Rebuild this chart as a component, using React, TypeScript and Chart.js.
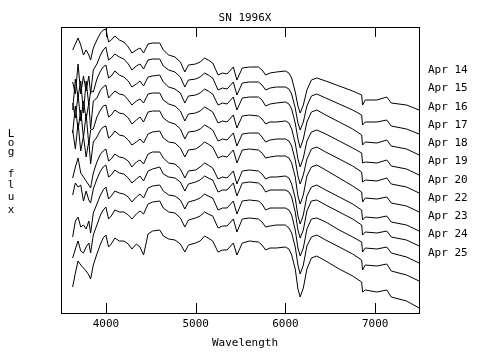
import { useEffect, useRef } from 'react';
import { Chart, registerables } from 'chart.js';

Chart.register(...registerables);

const chartTitle = 'SN 1996X';
const xTitle = 'Wavelength';
const yTitle = 'Log flux';
const xTicks = [4000, 5000, 6000, 7000];
const dates = ['Apr 14', 'Apr 15', 'Apr 16', 'Apr 17', 'Apr 18', 'Apr 19', 'Apr 20', 'Apr 22', 'Apr 23', 'Apr 24', 'Apr 25'];

const wavelengths = [3630, 3660, 3690, 3720, 3750, 3780, 3810, 3830, 3860, 3900, 3940, 3970, 4000, 4030, 4060, 4100, 4150, 4200, 4250, 4290, 4340, 4380, 4420, 4470, 4520, 4600, 4640, 4700, 4770, 4830, 4880, 4920, 5000, 5050, 5100, 5140, 5190, 5250, 5300, 5350, 5420, 5460, 5520, 5600, 5700, 5740, 5780, 5830, 5900, 6000, 6040, 6070, 6110, 6140, 6165, 6200, 6240, 6290, 6350, 6450, 6600, 6750, 6850, 6860, 6890, 7020, 7130, 7180, 7350, 7490];

const apr14 = [263, 269, 275, 268, 258, 263, 258, 253, 265, 273, 280, 283, 284, 271, 273, 277, 273, 271, 266, 260, 263, 265, 260, 269, 270, 270, 263, 258, 256, 251, 241, 248, 249, 251, 255, 253, 250, 238, 240, 239, 246, 233, 245, 246, 246, 243, 238, 240, 241, 242, 240, 235, 221, 207, 200, 208, 223, 233, 235, 232, 227, 222, 218, 208, 213, 213, 216, 210, 208, 203];
const apr15 = [231, 219, 249, 219, 237, 222, 237, 219, 243, 249, 258, 263, 266, 253, 255, 259, 256, 254, 249, 243, 247, 249, 244, 253, 254, 254, 247, 243, 241, 236, 226, 233, 234, 236, 240, 238, 235, 223, 225, 224, 231, 218, 230, 231, 231, 228, 223, 225, 226, 226, 224, 219, 205, 190, 183, 191, 207, 217, 219, 215, 209, 203, 198, 188, 191, 191, 193, 187, 184, 179];
const apr16 = [203, 234, 216, 232, 200, 232, 208, 222, 221, 234, 242, 246, 248, 235, 237, 242, 238, 236, 232, 226, 229, 232, 227, 236, 237, 238, 231, 226, 224, 220, 210, 217, 218, 220, 224, 222, 219, 208, 210, 209, 216, 203, 215, 216, 216, 213, 207, 209, 210, 211, 209, 204, 190, 174, 165, 174, 191, 201, 203, 198, 191, 184, 178, 168, 171, 170, 173, 167, 164, 158];
const apr17 = [210, 195, 218, 192, 212, 194, 210, 184, 212, 215, 223, 226, 228, 215, 218, 222, 219, 218, 213, 208, 212, 214, 210, 219, 220, 220, 213, 209, 207, 202, 192, 199, 200, 202, 206, 204, 201, 190, 192, 191, 198, 185, 197, 198, 197, 194, 189, 191, 191, 192, 190, 184, 170, 154, 146, 155, 172, 181, 183, 179, 172, 165, 160, 150, 151, 150, 153, 147, 144, 138];
const apr18 = [180, 207, 183, 203, 175, 199, 168, 183, 184, 196, 203, 207, 208, 196, 198, 203, 200, 199, 195, 189, 193, 196, 191, 201, 202, 202, 195, 191, 189, 184, 174, 181, 182, 184, 188, 186, 183, 172, 174, 173, 180, 167, 179, 180, 180, 176, 171, 173, 174, 174, 172, 167, 153, 137, 129, 138, 154, 164, 166, 161, 154, 147, 141, 131, 133, 132, 135, 129, 126, 120];
const apr19 = [183, 164, 190, 162, 177, 156, 172, 149, 171, 176, 183, 186, 187, 175, 177, 182, 178, 177, 173, 168, 171, 174, 170, 179, 181, 182, 175, 171, 170, 165, 156, 163, 164, 167, 171, 169, 166, 155, 157, 156, 163, 150, 163, 164, 163, 160, 155, 156, 157, 157, 155, 150, 136, 117, 109, 118, 137, 146, 148, 143, 135, 127, 121, 111, 115, 114, 116, 110, 107, 101];
const apr20 = [135, 146, 155, 140, 136, 132, 128, 125, 140, 151, 159, 162, 164, 152, 154, 159, 156, 155, 152, 146, 151, 153, 149, 159, 161, 161, 155, 150, 149, 144, 135, 142, 143, 146, 150, 148, 145, 134, 136, 135, 142, 129, 142, 143, 142, 139, 134, 136, 136, 137, 135, 129, 115, 97, 89, 98, 117, 126, 128, 123, 116, 109, 103, 93, 96, 95, 97, 91, 88, 82];
const apr22 = [118, 130, 126, 128, 112, 122, 113, 110, 124, 134, 142, 146, 148, 136, 138, 143, 140, 139, 135, 130, 134, 137, 132, 142, 144, 146, 139, 136, 135, 131, 122, 129, 131, 133, 137, 135, 133, 121, 123, 123, 130, 117, 130, 131, 130, 127, 121, 123, 123, 123, 121, 116, 101, 83, 75, 83, 102, 112, 113, 108, 101, 94, 88, 78, 81, 80, 82, 76, 73, 67];
const apr23 = [76, 92, 96, 86, 88, 84, 92, 80, 100, 109, 118, 123, 126, 114, 117, 122, 120, 119, 116, 111, 116, 119, 115, 125, 127, 128, 122, 118, 117, 113, 104, 111, 113, 115, 119, 117, 115, 103, 105, 105, 112, 99, 112, 113, 112, 109, 103, 105, 105, 105, 103, 98, 83, 65, 57, 65, 84, 94, 95, 91, 83, 76, 71, 61, 65, 64, 66, 60, 56, 50];
const apr24 = [55, 64, 72, 62, 60, 66, 70, 60, 78, 88, 98, 103, 106, 94, 97, 103, 101, 101, 98, 94, 99, 102, 99, 109, 111, 112, 105, 101, 100, 95, 86, 93, 95, 97, 101, 99, 97, 85, 87, 87, 94, 81, 94, 95, 94, 91, 86, 87, 88, 88, 85, 80, 66, 48, 39, 48, 67, 76, 78, 73, 66, 59, 53, 43, 48, 47, 49, 42, 38, 32];
const apr25 = [26, 40, 52, 48, 45, 42, 38, 34, 48, 59, 69, 75, 78, 66, 69, 75, 72, 72, 69, 64, 69, 66, 58, 79, 82, 83, 77, 74, 73, 69, 61, 68, 70, 72, 77, 75, 72, 61, 63, 63, 70, 58, 70, 72, 71, 68, 63, 65, 65, 66, 64, 58, 44, 24, 16, 25, 44, 55, 57, 52, 44, 37, 31, 21, 23, 21, 23, 16, 12, 5];

const spectra = [apr14, apr15, apr16, apr17, apr18, apr19, apr20, apr22, apr23, apr24, apr25];

const FONT = '11px "DejaVu Sans Mono", "Liberation Mono", monospace';

const decor = {
  id: 'decor',
  afterDraw(chart: any) {
    const { ctx, chartArea: a, scales } = chart;
    ctx.save();
    ctx.strokeStyle = '#000';
    ctx.lineWidth = 1;
    ctx.strokeRect(a.left + 0.5, a.top + 0.5, a.right - a.left - 1, a.bottom - a.top);
    ctx.beginPath();
    for (const v of xTicks) {
      const x = Math.round(scales.x.getPixelForValue(v)) + 0.5;
      ctx.moveTo(x, a.bottom);
      ctx.lineTo(x, a.bottom - 10);
      ctx.moveTo(x, a.top);
      ctx.lineTo(x, a.top + 10);
    }
    ctx.stroke();
    ctx.fillStyle = '#000';
    ctx.font = FONT;
    ctx.textBaseline = 'alphabetic';
    ctx.textAlign = 'center';
    ctx.fillText(chartTitle, 245, 21);
    ctx.fillText(xTitle, 245, 346);
    const letterY = [137, 146, 155, 0, 177, 188, 200, 213];
    yTitle.split('').forEach((ch, i) => {
      if (ch !== ' ') ctx.fillText(ch, 11, letterY[i]);
    });
    ctx.textAlign = 'left';
    dates.forEach((d, i) => {
      ctx.fillText(d, 428, 73 + i * 18.27);
    });
    ctx.restore();
  },
};

export default function App() {
  const ref = useRef<HTMLCanvasElement>(null);
  useEffect(() => {
    document.body.style.margin = '0';
    const chart = new Chart(ref.current as HTMLCanvasElement, {
      type: 'line',
      data: {
        datasets: spectra.map((vals, k) => ({
          label: dates[k],
          data: wavelengths.map((w, i) => ({ x: w, y: vals[i] })),
          borderColor: '#000',
          borderWidth: 1,
          pointRadius: 0,
          tension: 0,
          fill: false,
        })),
      },
      options: {
        animation: false,
        responsive: false,
        devicePixelRatio: 1,
        layout: { padding: { left: 61, right: 67, top: 27, bottom: 0 } },
        plugins: { legend: { display: false }, tooltip: { enabled: false }, title: { display: false } },
        scales: {
          x: {
            type: 'linear',
            min: 3500,
            max: 7500,
            grid: { display: false, drawTicks: false },
            border: { display: false },
            afterBuildTicks: (s: any) => {
              s.ticks = xTicks.map((v) => ({ value: v }));
            },
            afterFit: (s: any) => {
              s.height = 48;
            },
            ticks: {
              padding: 5,
              color: '#000',
              maxRotation: 0,
              font: { family: '"DejaVu Sans Mono", "Liberation Mono", monospace', size: 11 },
              callback: (v: any) => String(v),
            },
          },
          y: { display: false, min: 0, max: 286 },
        },
      },
      plugins: [decor],
    });
    return () => chart.destroy();
  }, []);
  return (
    <div style={{ width: 487, height: 361 }}>
      <canvas ref={ref} width={487} height={361} style={{ display: 'block' }} />
    </div>
  );
}
